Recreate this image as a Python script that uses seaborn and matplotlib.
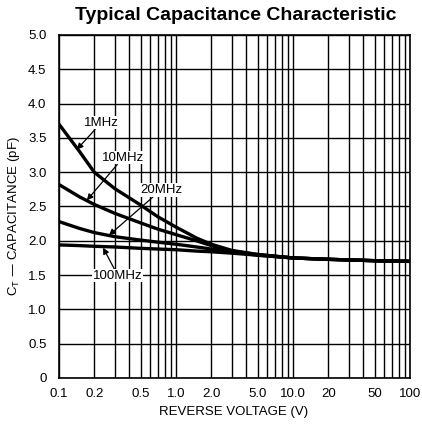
import numpy as np
import pandas as pd
import matplotlib
matplotlib.use("Agg")
import matplotlib.pyplot as plt
import matplotlib.ticker as mticker
import seaborn as sns

# ---- data ----
voltage = [0.1, 0.15, 0.2, 0.3, 0.5, 0.7, 1.0, 1.5, 2.0, 3.0, 5.0, 10.0, 20.0, 50.0, 100.0]
cap_1mhz = [3.70, 3.30, 3.00, 2.76, 2.52, 2.35, 2.20, 2.04, 1.95, 1.86, 1.80, 1.75, 1.73, 1.71, 1.70]
cap_10mhz = [2.82, 2.64, 2.53, 2.40, 2.26, 2.17, 2.09, 2.00, 1.93, 1.85, 1.80, 1.75, 1.73, 1.71, 1.70]
cap_20mhz = [2.28, 2.18, 2.12, 2.06, 2.01, 1.98, 1.95, 1.91, 1.88, 1.84, 1.79, 1.75, 1.73, 1.71, 1.70]
cap_100mhz = [1.94, 1.93, 1.92, 1.91, 1.89, 1.88, 1.87, 1.85, 1.84, 1.82, 1.79, 1.75, 1.73, 1.71, 1.70]
series_names = ["1MHz", "10MHz", "20MHz", "100MHz"]
x_tick_values = [0.1, 0.2, 0.5, 1.0, 2.0, 5.0, 10.0, 20.0, 50.0, 100.0]
x_tick_labels = ["0.1", "0.2", "0.5", "1.0", "2.0", "5.0", "10.0", "20", "50", "100"]
y_tick_values = [0, 0.5, 1.0, 1.5, 2.0, 2.5, 3.0, 3.5, 4.0, 4.5, 5.0]
y_tick_labels = ["0", "0.5", "1.0", "1.5", "2.0", "2.5", "3.0", "3.5", "4.0", "4.5", "5.0"]

df = pd.concat([
    pd.DataFrame({"V": voltage, "C": vals, "freq": name})
    for name, vals in zip(series_names, [cap_1mhz, cap_10mhz, cap_20mhz, cap_100mhz])
])

sns.set_style("white")
plt.rcParams["font.family"] = ["Liberation Sans", "DejaVu Sans"]
plt.rcParams["text.color"] = "black"
plt.rcParams["axes.labelcolor"] = "black"
plt.rcParams["xtick.color"] = "black"
plt.rcParams["ytick.color"] = "black"

fig = plt.figure(figsize=(4.22, 4.30), dpi=100)
ax = fig.add_axes([59 / 422, 1 - 378 / 430, (410 - 59) / 422, (378 - 35) / 430])

ax.set_xscale("log")
ax.set_xlim(0.1, 100)
ax.set_ylim(0, 5)

# grid
ax.xaxis.set_major_locator(mticker.LogLocator(base=10, subs=np.arange(1, 10)))
ax.xaxis.set_major_formatter(mticker.NullFormatter())
ax.xaxis.set_minor_locator(mticker.NullLocator())
ax.yaxis.set_major_locator(mticker.FixedLocator(y_tick_values))
ax.grid(True, which="major", color="black", lw=1.0)
ax.set_axisbelow(True)

sns.lineplot(data=df, x="V", y="C", hue="freq", palette=["black"] * 4,
             lw=2.4, legend=False, ax=ax, zorder=3)

ax.set_yticks(y_tick_values)
ax.set_yticklabels(y_tick_labels)
ax.tick_params(axis="both", length=0, labelsize=9.5, colors="black")
ax.tick_params(axis="y", pad=9)

# x labels only at selected positions
sec = ax.secondary_xaxis("bottom")
sec.set_xticks(x_tick_values)
sec.set_xticklabels(x_tick_labels)
sec.tick_params(length=0, labelsize=9.5, pad=7, colors="black")
sec.xaxis.set_minor_locator(mticker.NullLocator())
sec.spines["bottom"].set_visible(False)

for s in ax.spines.values():
    s.set_color("black")
    s.set_linewidth(1.2)

ax.set_xlabel("")
ax.set_ylabel("")
fig.text(14 / 422, 1 - 216 / 430, r"C$_\mathregular{T}$ — CAPACITANCE (pF)",
         rotation=90, ha="center", va="center", fontsize=9.5, color="black")
fig.text(234 / 422, 1 - 412 / 430, "REVERSE VOLTAGE (V)", ha="center", va="center",
         fontsize=9.5, color="black")
fig.text(236 / 422, 1 - 15 / 430, "Typical Capacitance Characteristic",
         ha="center", va="center", fontsize=14, fontweight="bold", color="black")

# annotations
arrow = dict(arrowstyle="-|>", color="black", lw=0.9, mutation_scale=9, shrinkA=0, shrinkB=0)
box = dict(facecolor="white", edgecolor="none", pad=0.5)
ax.annotate("1MHz", xy=(0.142, 3.33), xytext=(0.229, 3.72), ha="center", va="center",
            fontsize=9.5, bbox=box, arrowprops=arrow, zorder=5, color="black")
ax.annotate("10MHz", xy=(0.173, 2.59), xytext=(0.352, 3.21), ha="center", va="center",
            fontsize=9.5, bbox=box, arrowprops=arrow, zorder=5, color="black")
ax.annotate("20MHz", xy=(0.267, 2.08), xytext=(0.744, 2.74), ha="center", va="center",
            fontsize=9.5, bbox=box, arrowprops=arrow, zorder=5, color="black")
ax.annotate("100MHz", xy=(0.238, 1.90), xytext=(0.319, 1.49), ha="center", va="center",
            fontsize=9.5, bbox=box, arrowprops=arrow, zorder=5, color="black")

fig.savefig("out.png", dpi=100)
